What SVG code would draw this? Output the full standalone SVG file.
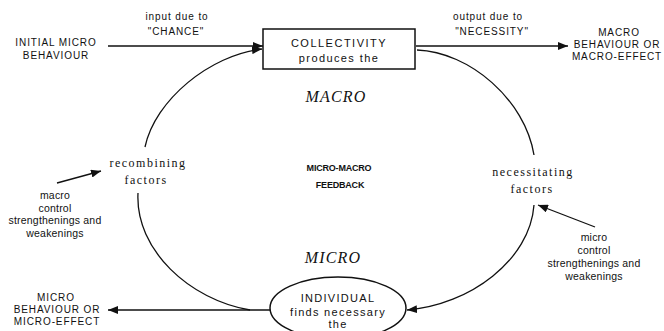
<svg xmlns="http://www.w3.org/2000/svg" width="664" height="331" viewBox="0 0 664 331">
<style>
.sans{font-family:"Liberation Sans",Arial,sans-serif;fill:#111;text-anchor:middle}
.serif{font-family:"Liberation Serif","Times New Roman",serif;fill:#111;text-anchor:middle}
.lbl{font-size:10px;letter-spacing:0.9px}
.ctl{font-size:10.5px;letter-spacing:0.2px}
.fac{font-size:12px;letter-spacing:1.5px}
.lvl{font-size:16px;font-style:italic;letter-spacing:1.2px}
.ln{fill:none;stroke:#111;stroke-width:1.3}
.shape{fill:#fff;stroke:#111;stroke-width:1.5}
</style>
<defs>
<marker id="ah" markerUnits="userSpaceOnUse" viewBox="0 0 10 8" refX="10" refY="4" markerWidth="10" markerHeight="8" orient="auto">
<path d="M0,0 L10,4 L0,8 Z" fill="#111"/>
</marker>
</defs>

<g id="connectors">
<line class="ln" x1="108" y1="46" x2="263" y2="46" marker-end="url(#ah)"/>
<line class="ln" x1="416" y1="46" x2="568" y2="46" marker-end="url(#ah)"/>
<path class="ln" d="M145,147 C155,100 210,55 262,49" marker-end="url(#ah)"/>
<path class="ln" d="M138,193 C135,250 190,300 250,310"/>
<line class="ln" x1="270" y1="310" x2="108" y2="310" marker-end="url(#ah)"/>
<path class="ln" d="M417,50 C470,52 525,100 534,155"/>
<path class="ln" d="M534,205 C530,260 470,305 407,310" marker-end="url(#ah)"/>
<line class="ln" x1="595" y1="227" x2="538" y2="205" marker-end="url(#ah)"/>
<line class="ln" x1="57" y1="183" x2="101" y2="171" marker-end="url(#ah)"/>
</g>

<g id="collectivity">
<rect class="shape" x="263" y="29" width="152" height="40"/>
<text class="sans" x="339" y="47" style="font-size:11px;letter-spacing:1.5px">COLLECTIVITY</text>
<text class="sans" x="339" y="62" style="font-size:11px;letter-spacing:1.4px">produces the</text>
</g>

<g id="individual">
<ellipse class="shape" cx="338" cy="308" rx="68" ry="31"/>
<text class="sans" x="338" y="302" style="font-size:11px;letter-spacing:1.3px">INDIVIDUAL</text>
<text class="sans" x="338" y="316" style="font-size:11px;letter-spacing:1.3px">finds necessary</text>
<text class="sans" x="338" y="328" style="font-size:11px;letter-spacing:1.3px">the</text>
</g>

<g id="initial-micro">
<text class="sans lbl" x="56" y="46">INITIAL MICRO</text>
<text class="sans lbl" x="56" y="59">BEHAVIOUR</text>
</g>

<g id="input-label">
<text class="sans lbl" x="177" y="20">input due to</text>
<text class="sans lbl" x="176" y="35">"CHANCE"</text>
</g>

<g id="output-label">
<text class="sans lbl" x="488" y="20">output due to</text>
<text class="sans lbl" x="492" y="35">"NECESSITY"</text>
</g>

<g id="macro-effect">
<text class="sans lbl" x="619" y="36">MACRO</text>
<text class="sans lbl" x="617" y="48">BEHAVIOUR OR</text>
<text class="sans lbl" x="617" y="60">MACRO-EFFECT</text>
</g>

<g id="micro-effect">
<text class="sans lbl" x="56" y="301">MICRO</text>
<text class="sans lbl" x="57" y="313">BEHAVIOUR OR</text>
<text class="sans lbl" x="57" y="325">MICRO-EFFECT</text>
</g>

<g id="macro-level">
<text class="serif lvl" x="336" y="102">MACRO</text>
</g>
<g id="micro-level">
<text class="serif lvl" x="333" y="263">MICRO</text>
</g>

<g id="feedback">
<text class="sans" x="339" y="171" style="font-size:9px;font-weight:bold;letter-spacing:-0.2px">MICRO-MACRO</text>
<text class="sans" x="340" y="188" style="font-size:9px;font-weight:bold;letter-spacing:-0.2px">FEEDBACK</text>
</g>

<g id="recombining">
<text class="serif fac" x="148" y="167">recombining</text>
<text class="serif fac" x="146" y="184">factors</text>
</g>

<g id="necessitating">
<text class="serif fac" x="533" y="176">necessitating</text>
<text class="serif fac" x="532" y="193">factors</text>
</g>

<g id="macro-control">
<text class="sans ctl" x="55" y="199">macro</text>
<text class="sans ctl" x="55" y="211.5">control</text>
<text class="sans ctl" x="55" y="224">strengthenings and</text>
<text class="sans ctl" x="55" y="236.5">weakenings</text>
</g>

<g id="micro-control">
<text class="sans ctl" x="594" y="241">micro</text>
<text class="sans ctl" x="594" y="254">control</text>
<text class="sans ctl" x="594" y="267">strengthenings and</text>
<text class="sans ctl" x="594" y="280">weakenings</text>
</g>
</svg>
